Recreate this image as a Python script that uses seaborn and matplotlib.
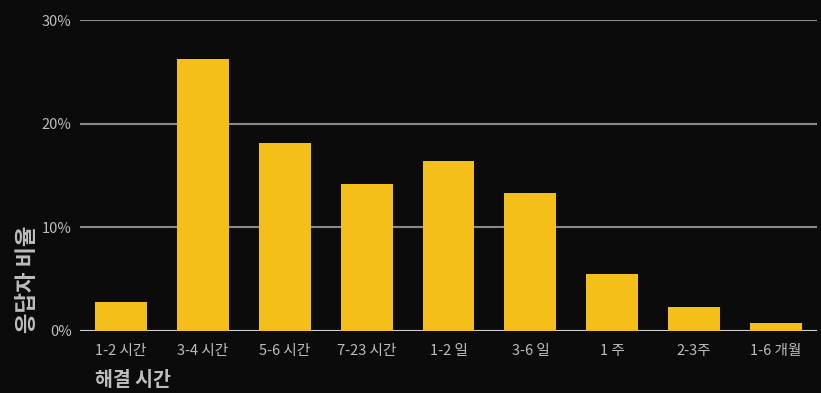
import matplotlib
matplotlib.use("Agg")
import matplotlib.pyplot as plt
import seaborn as sns
import pandas as pd
from matplotlib.ticker import FuncFormatter

# resolution time buckets and share of respondents (%)
categories = ['1-2 시간', '3-4 시간', '5-6 시간', '7-23 시간', '1-2 일',
              '3-6 일', '1 주', '2-3주', '1-6 개월']
shares = [2.8, 26.2, 18.1, 14.2, 16.4, 13.3, 5.5, 2.3, 0.8]
y_ticks = [0, 10, 20, 30]

df = pd.DataFrame({'bucket': categories, 'share': shares})

sns.set_style('dark')
plt.rcParams['font.family'] = ['Noto Sans CJK KR', 'DejaVu Sans']

bg = '#0b0b0b'
fig = plt.figure(figsize=(8.21, 3.93), dpi=100, facecolor=bg)
ax = fig.add_axes([80 / 821, 1 - 331 / 393, 737 / 821, 311 / 393])
ax.set_facecolor(bg)

sns.barplot(data=df, x='bucket', y='share', color='#f5bf1a', width=0.634,
            saturation=1, linewidth=0, edgecolor='none', ax=ax, zorder=3)

ax.set_xlim(-0.5, len(categories) - 0.5)
ax.set_ylim(0, 30)
ax.set_yticks(y_ticks)
ax.yaxis.set_major_formatter(FuncFormatter(lambda v, p: f'{v:.0f}%'))
for t in y_ticks:
    ax.axhline(t, color='#d0d0d0' if t == 0 else '#8a8a8a', lw=1.5, zorder=2)
ax.grid(False)
for s in ax.spines.values():
    s.set_visible(False)

ax.tick_params(axis='both', length=0, colors='#bdbdbd', labelsize=10.5)
ax.tick_params(axis='x', pad=9)
ax.tick_params(axis='y', pad=6)
ax.set_xlabel('')
ax.set_ylabel('')

fig.text(95 / 821, 1 - 381 / 393, '해결 시간', color='#bdbdbd', fontsize=14,
         fontweight='bold', ha='left', va='center')
fig.text(28 / 821, 1 - 333 / 393, '응답자 비율', color='#bdbdbd', fontsize=16,
         fontweight='bold', rotation=90, ha='center', va='bottom')

fig.savefig('out.png', dpi=100, facecolor=bg)
